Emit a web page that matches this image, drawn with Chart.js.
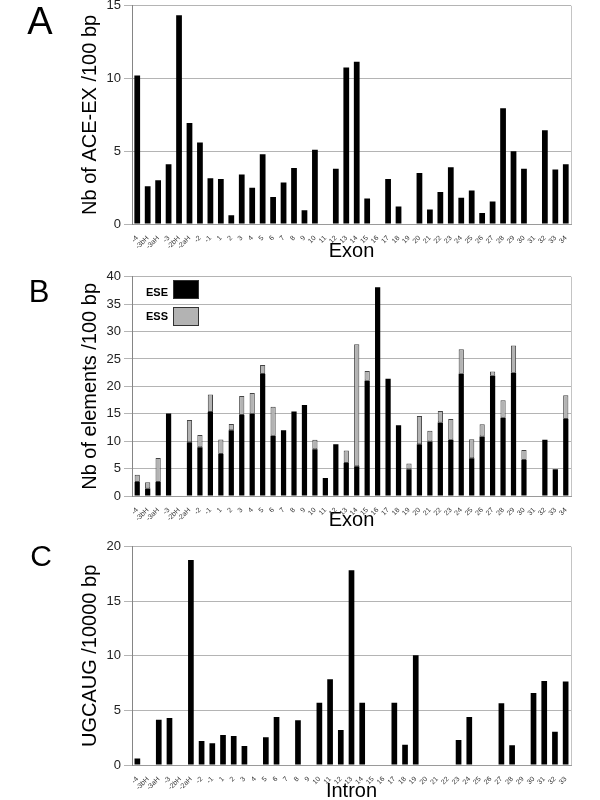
<!DOCTYPE html>
<html>
<head>
<meta charset="utf-8">
<script src="https://cdn.jsdelivr.net/npm/chart.js@4.4.1/dist/chart.umd.min.js"></script>
<style>
  html, body { margin: 0; padding: 0; background: #fff; overflow: hidden; }
  body { font-family: "Liberation Sans", Arial, sans-serif; }
  #page { position: relative; width: 600px; height: 800px; }
  canvas { position: absolute; left: 0; }
  .letter { position: absolute; left: 0; width: 80px; text-align: center; line-height: 1; color: #000; }
  .lg-text { position: absolute; font-size: 11px; font-weight: bold; line-height: 11px; color: #000; }
  .lg-box { position: absolute; left: 173px; width: 24px; height: 17px; border: 1px solid #333; }
</style>
</head>
<body>
<div id="page">
  <canvas id="chartA" width="600" height="269" style="top:-5px"></canvas>
  <canvas id="chartB" width="600" height="268" style="top:266px"></canvas>
  <canvas id="chartC" width="600" height="267" style="top:536px"></canvas>

  <div class="letter" style="top:1.5px;font-size:38px;">A</div>
  <div class="letter" style="top:276px;font-size:31px;left:-1px;">B</div>
  <div class="letter" style="top:541px;font-size:30px;left:1px;">C</div>

  <div class="lg-text" style="left:146px;top:287px;">ESE</div>
  <div class="lg-box" style="top:280px;background:#000;"></div>
  <div class="lg-text" style="left:146px;top:311px;">ESS</div>
  <div class="lg-box" style="top:307px;background:#b3b3b3;"></div>
</div>

<script>
// categories
const exonLabels = ['-4', '-3bH', '-3aH', '-3', '-2bH', '-2aH', '-2', '-1',
  '1', '2', '3', '4', '5', '6', '7', '8', '9', '10',
  '11', '12', '13', '14', '15', '16', '17', '18', '19', '20',
  '21', '22', '23', '24', '25', '26', '27', '28', '29', '30',
  '31', '32', '33', '34'];

const intronLabels = ['-4', '-3bH', '-3aH', '-3', '-2bH', '-2aH', '-2', '-1',
  '1', '2', '3', '4', '5', '6', '7', '8', '9', '10',
  '11', '12', '13', '14', '15', '16', '17', '18', '19', '20',
  '21', '22', '23', '24', '25', '26', '27', '28', '29', '30',
  '31', '32', '33'];

// A: ACE-EX per 100 bp
const aceExValues = [10.2, 2.6, 3.0, 4.1, 14.35, 6.95, 5.6, 3.15,
  3.1, 0.6, 3.4, 2.5, 4.8, 1.85, 2.85, 3.85, 0.95, 5.1,
  0, 3.8, 10.75, 11.15, 1.75, 0, 3.1, 1.2, 0, 3.5,
  1.0, 2.2, 3.9, 1.8, 2.3, 0.75, 1.55, 7.95, 5.0, 3.8,
  0, 6.45, 3.75, 4.1];

// B: ESE / ESS elements per 100 bp (stacked)
const eseValues = [2.55, 1.35, 2.55, 15.05, 0, 9.8, 8.9, 15.35,
  7.65, 12.0, 14.8, 15.0, 22.25, 11.0, 12.0, 15.4, 16.6, 8.55,
  3.3, 9.45, 6.0, 5.45, 21.05, 38.1, 21.4, 12.9, 4.9, 9.45,
  9.95, 13.4, 10.25, 22.3, 6.9, 10.85, 21.95, 14.3, 22.5, 6.55,
  0, 10.25, 4.9, 14.05];

const essValues = [1.35, 1.15, 4.4, 0, 0, 4.05, 2.25, 3.15,
  2.65, 1.15, 3.45, 3.8, 1.65, 5.3, 0, 0, 0, 1.7,
  0, 0, 2.3, 22.25, 1.75, 0, 0, 0, 1.05, 5.15,
  1.95, 2.1, 3.8, 4.5, 3.45, 2.25, 0.75, 3.15, 4.95, 1.85,
  0, 0, 0, 4.35];

// C: UGCAUG per 10000 bp
const ugcaugValues = [0.6, 0, 4.15, 4.3, 0, 18.8, 2.2, 2.0,
  2.75, 2.65, 1.75, 0, 2.55, 4.4, 0, 4.1, 0, 5.7,
  7.85, 3.2, 17.85, 5.7, 0, 0, 5.7, 1.85, 10.05, 0,
  0, 0, 2.3, 4.4, 0, 0, 5.65, 1.8, 0, 6.6,
  7.7, 3.05, 7.65];

Chart.defaults.font.family = '"Liberation Sans", Arial, sans-serif';

// right-hand border of the plot area
const plotFrame = {
  id: 'plotFrame',
  beforeDatasetsDraw(chart) {
    const { ctx, chartArea: a } = chart;
    const x = Math.round(a.right) + 0.5;
    ctx.save();
    ctx.strokeStyle = '#c4c4c4';
    ctx.lineWidth = 1;
    ctx.beginPath();
    ctx.moveTo(x, a.top);
    ctx.lineTo(x, a.bottom);
    ctx.stroke();
    ctx.restore();
  }
};

function panelChart(id, cfg) {
  return new Chart(document.getElementById(id), {
    type: 'bar',
    data: { labels: cfg.labels, datasets: cfg.datasets },
    options: {
      responsive: false,
      animation: false,
      layout: { padding: { top: 10, right: 29, left: 0, bottom: 0 } },
      plugins: { legend: { display: false }, tooltip: { enabled: false } },
      scales: {
        x: {
          stacked: true,
          grid: { display: false },
          border: { color: '#9a9a9a' },
          ticks: {
            autoSkip: false, maxRotation: 45, minRotation: 45,
            padding: 2, color: '#333', font: { size: 7 }
          },
          title: {
            display: true, text: cfg.xTitle, color: '#000',
            font: { size: 20 }, padding: { top: 0, bottom: cfg.xTitlePad }
          },
          afterFit: s => { s.height = cfg.xHeight; }
        },
        y: {
          stacked: true,
          min: 0,
          max: cfg.yMax,
          ticks: { stepSize: cfg.yStep, color: '#222', font: { size: 13 }, padding: 3 },
          grid: { color: '#b4b4b4', tickLength: 8 },
          border: { color: '#858585' },
          title: {
            display: true, text: cfg.yTitle, color: '#000',
            font: { size: 20 }, padding: { top: 78, bottom: 0 }
          },
          afterFit: s => { s.width = 132; }
        }
      }
    },
    plugins: [plotFrame]
  });
}

panelChart('chartA', {
  labels: exonLabels,
  datasets: [{
    data: aceExValues,
    backgroundColor: '#000',
    categoryPercentage: 1,
    barPercentage: 0.55
  }],
  xTitle: 'Exon', xHeight: 40, xTitlePad: 0.5,
  yTitle: 'Nb of ACE-EX /100 bp', yMax: 15, yStep: 5
});

panelChart('chartB', {
  labels: exonLabels,
  datasets: [
    {
      label: 'ESE',
      data: eseValues,
      backgroundColor: '#000',
      categoryPercentage: 1,
      barPercentage: 0.5
    },
    {
      label: 'ESS',
      data: essValues,
      backgroundColor: '#b3b3b3',
      borderColor: '#444',
      borderWidth: c => (c.raw > 0 ? 1 : 0),
      borderSkipped: false,
      categoryPercentage: 1,
      barPercentage: 0.5
    }
  ],
  xTitle: 'Exon', xHeight: 38, xTitlePad: 1.2,
  yTitle: 'Nb of elements /100 bp', yMax: 40, yStep: 5
});

panelChart('chartC', {
  labels: intronLabels,
  datasets: [{
    data: ugcaugValues,
    backgroundColor: '#000',
    categoryPercentage: 1,
    barPercentage: 0.53
  }],
  xTitle: 'Intron', xHeight: 38, xTitlePad: 0,
  yTitle: 'UGCAUG /10000 bp', yMax: 20, yStep: 5
});
</script>
</body>
</html>
